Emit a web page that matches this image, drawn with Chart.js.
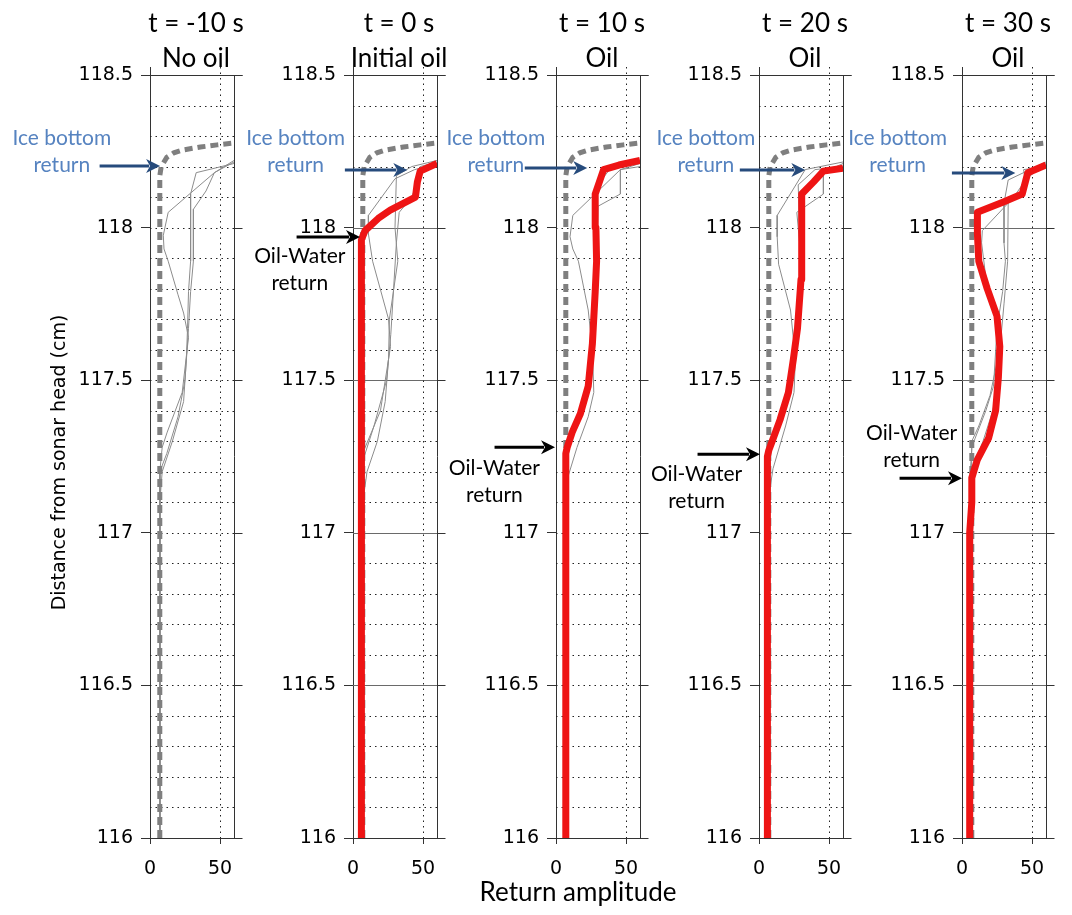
<!DOCTYPE html>
<html>
<head>
<meta charset="utf-8">
<script src="https://cdn.jsdelivr.net/npm/chart.js@4.4.0/dist/chart.umd.min.js"></script>
<style>
  html, body { margin: 0; padding: 0; background: #fff; }
  #wrap { position: relative; width: 1072px; height: 915px; }
  #wrap canvas { position: absolute; left: 0; top: 0; }
</style>
</head>
<body>
<div id="wrap"></div>
<script>
// axes
const yTicks = [116, 116.5, 117, 117.5, 118, 118.5];
const xTicks = [0, 50];

const panelTitles = [
  ["t = -10 s", "No oil"],
  ["t = 0 s", "Initial oil"],
  ["t = 10 s", "Oil"],
  ["t = 20 s", "Oil"],
  ["t = 30 s", "Oil"]
];

// profiles as [return amplitude, distance from sonar head (cm)]
// grey dashed: no-oil reference, same in every panel
const noOilRef = [[7,116],[7,118.17],[8,118.2],[12,118.23],[17,118.245],[23,118.254],[36,118.264],[48,118.271],[60,118.277]];

const p1ThinA = [[60,118.21],[33,118.18],[29,118.11],[29,117.89],[27.5,117.79],[26.8,117.67],[26,117.57],[24,117.43],[16,117.3],[8.7,117.2],[7,117.1],[7,116]];
const p1ThinB = [[60,118.215],[46,118.18],[13,118.05],[9.5,117.975],[10,117.93],[13,117.89],[20,117.78],[24,117.72],[27.5,117.64],[23,117.46],[12.3,117.33],[8.7,117.28],[7,117.2],[7,116]];
const p1ThinC = [[60,118.22],[46,118.18],[40,118.12],[31,118.06],[31,117.89],[29,117.79],[27.5,117.67],[25,117.5],[20,117.38],[12,117.26],[7,117.2],[7,116]];

const p2Red = [[6,116],[6,117.96],[8.6,117.99],[18,118.03],[26.6,118.057],[44.6,118.1],[46,118.15],[48,118.185],[60,118.21]];
const p2ThinA = [[60,118.22],[42,118.2],[31,118.17],[30,118.0],[32,117.89],[26,117.7],[25.4,117.57],[23,117.43],[17.4,117.3],[10,117.2],[7,117.1],[7,116]];
const p2ThinB = [[60,118.21],[44,118.19],[30,118.16],[11,118.04],[11,117.98],[14,117.89],[25.4,117.7],[26.8,117.61],[19.6,117.4],[8.7,117.28],[6.5,117.25],[7,116]];
const p2ThinC = [[60,118.215],[48,118.2],[46,118.15],[42,118.1],[33,118.05],[31,117.95],[29,117.8],[27,117.65],[24,117.5],[15,117.35],[8,117.25],[7,116]];

const p3Red = [[7,116],[7,117.26],[8,117.28],[11.6,117.33],[17.4,117.39],[23,117.48],[26,117.62],[28,117.79],[29,117.89],[28.5,118.0],[28,118.11],[34,118.19],[45,118.205],[60,118.22]];
const p3ThinA = [[60,118.2],[46,118.19],[12,118.04],[10,117.97],[12,117.93],[16,117.89],[23,117.73],[26,117.6],[27,117.46],[23,117.38],[15,117.28],[9,117.19],[7,117.1],[7,116]];
const p3ThinB = [[60,118.21],[46,118.19],[46,118.11],[30,118.07],[29,117.89],[28,117.78],[26,117.62],[23,117.48],[17,117.39],[11,117.32],[8,117.27],[7,116]];
const p3ThinC = [[60,118.215],[40,118.2],[28,118.13],[28,118.0],[29,117.9],[27,117.7],[24,117.5],[18,117.4],[10,117.3],[7,117.2],[7,116]];

const p4Red = [[6,116],[6,117.25],[7,117.27],[9.4,117.3],[15,117.37],[21,117.46],[24.6,117.57],[27.5,117.67],[30,117.83],[30.5,117.9],[30.5,118.11],[39,118.15],[46,118.185],[60,118.195]];
const p4ThinA = [[60,118.215],[33,118.19],[13,118.04],[13,117.97],[14,117.88],[22.5,117.73],[26,117.57],[25,117.46],[19,117.35],[10,117.21],[7,117.12],[6,116]];
const p4ThinB = [[60,118.21],[46,118.18],[46,118.11],[27,118.05],[30,117.9],[28,117.7],[25,117.55],[20,117.42],[12,117.32],[7,117.25],[6,116]];
const p4ThinC = [[60,118.2],[40,118.19],[28,118.14],[29,118.0],[30,117.85],[27,117.65],[23,117.5],[16,117.38],[8,117.28],[6,116]];

const p5Red = [[5,116],[5.5,117.0],[7,117.1],[7,117.18],[11,117.24],[19,117.31],[24,117.4],[26,117.51],[27,117.61],[25,117.71],[18,117.8],[12,117.89],[11,117.98],[11,118.05],[30,118.085],[43,118.11],[47,118.18],[60,118.205]];
const p5ThinA = [[60,118.21],[46,118.16],[37,118.1],[14.5,117.99],[14,117.95],[18,117.8],[25,117.7],[27,117.6],[26,117.5],[22,117.4],[15,117.3],[8,117.22],[6,117.1],[5,116]];
const p5ThinB = [[60,118.215],[33,118.156],[30,118.08],[30,117.95],[31,117.89],[29,117.79],[25,117.67],[22.5,117.48],[17,117.4],[9.4,117.31],[7,117.28],[6,117.2],[5,116]];
const p5ThinC = [[60,118.2],[44,118.19],[46,118.13],[33,118.08],[32.6,117.89],[30,117.75],[27,117.6],[20,117.45],[12,117.35],[7,117.3],[5,116]];

// callouts in data units: text baseline of first line, arrow tail and tip
const iceNotes = [
  { text: [-63, 118.27], tail: [-36, 118.202], tip: [7.2, 118.202] },
  { text: [-41, 118.27], tail: [-5.8, 118.189], tip: [38.8, 118.189] },
  { text: [-43, 118.27], tail: [-22.3, 118.195], tip: [22.3, 118.195] },
  { text: [-38, 118.27], tail: [-13.7, 118.189], tip: [33.1, 118.189] },
  { text: [-46, 118.27], tail: [-7.2, 118.179], tip: [38.1, 118.179] }
];
const owNotes = [
  null,
  { text: [-38, 117.884], tail: [-40.3, 117.969], tip: [5, 117.969] },
  { text: [-44, 117.189], tail: [-43.9, 117.28], tip: [-0.7, 117.28] },
  { text: [-44.6, 117.169], tail: [-43.9, 117.257], tip: [0.7, 117.257] },
  { text: [-36, 117.303], tail: [-44.6, 117.179], tip: [0, 117.179] }
];

const panels = [
  { red: null, thin: [p1ThinA, p1ThinB, p1ThinC], solidGrid: false },
  { red: p2Red, thin: [p2ThinA, p2ThinB, p2ThinC], solidGrid: true },
  { red: p3Red, thin: [p3ThinA, p3ThinB, p3ThinC], solidGrid: false },
  { red: p4Red, thin: [p4ThinA, p4ThinB, p4ThinC], solidGrid: false },
  { red: p5Red, thin: [p5ThinA, p5ThinB, p5ThinC], solidGrid: true }
];

const W = 1072, H = 915;
const panelLeft = [150, 353, 556, 759, 962];
const plotW = 84, plotTop = 75, plotBottom = 838;
const yAxisW = 100, xAxisH = 45;

function pts(a) {
  return a.map(p => ({ x: p[0], y: p[1] }));
}

function hline(ctx, x1, x2, y) {
  ctx.beginPath(); ctx.moveTo(x1, y); ctx.lineTo(x2, y); ctx.stroke();
}
function vline(ctx, x, y1, y2) {
  ctx.beginPath(); ctx.moveTo(x, y1); ctx.lineTo(x, y2); ctx.stroke();
}

function arrow(ctx, x1, y1, x2, y2, color) {
  const ang = Math.atan2(y2 - y1, x2 - x1);
  const len = 14, hw = 7;
  ctx.save();
  ctx.translate(x2, y2);
  ctx.rotate(ang);
  ctx.strokeStyle = color;
  ctx.fillStyle = color;
  ctx.lineWidth = 3;
  ctx.beginPath();
  ctx.moveTo(-Math.hypot(x2 - x1, y2 - y1), 0);
  ctx.lineTo(-len + 3, 0);
  ctx.stroke();
  ctx.beginPath();
  ctx.moveTo(0, 0);
  ctx.lineTo(-len, -hw);
  ctx.lineTo(-len + 4, 0);
  ctx.lineTo(-len, hw);
  ctx.closePath();
  ctx.fill();
  ctx.restore();
}

const framePlugin = {
  id: "frame",
  beforeDatasetsDraw(chart, args, opts) {
    const { ctx, chartArea: a, scales: { x, y } } = chart;
    ctx.save();
    ctx.lineWidth = 1;
    // horizontal grid every 0.1 cm
    for (let k = 1; k < 25; k++) {
      const py = Math.round(y.getPixelForValue(116 + k * 0.1)) + 0.5;
      if (k % 5 === 0 && opts.solidGrid) {
        ctx.setLineDash([]);
        ctx.strokeStyle = "#6a6a6a";
      } else {
        ctx.setLineDash([1.5, 4]);
        ctx.strokeStyle = "#222";
      }
      hline(ctx, a.left, a.right, py);
    }
    // dotted amplitude grid
    ctx.setLineDash([1.5, 4]);
    ctx.strokeStyle = "#222";
    const gx = Math.round(x.getPixelForValue(50)) + 0.5;
    vline(ctx, gx, a.top - 8, a.bottom);
    ctx.setLineDash([]);
    // box and outward ticks on top / right
    ctx.strokeStyle = "#333";
    const top = Math.round(a.top) + 0.5, right = Math.round(a.right) + 0.5;
    hline(ctx, a.left - 9, right + 8, top);
    vline(ctx, right, a.top, a.bottom);
    vline(ctx, Math.round(a.left) + 0.5, a.top - 8, a.top);
    yTicks.forEach(v => {
      const py = Math.round(y.getPixelForValue(v)) + 0.5;
      hline(ctx, right, right + 8, py);
    });
    ctx.restore();
  },
  afterDraw(chart, args, opts) {
    const { ctx, chartArea: a, scales: { x, y } } = chart;
    ctx.save();
    ctx.fillStyle = "#000";
    ctx.textAlign = "center";
    ctx.textBaseline = "alphabetic";
    ctx.font = "26px Lato";
    const cx = (a.left + a.right) / 2 + 4;
    ctx.fillText(opts.title[0], cx, a.top - 43);
    ctx.fillText(opts.title[1], cx, a.top - 8);

    ctx.font = "21px Lato";
    const ice = opts.ice;
    if (ice) {
      ctx.fillStyle = "#5683c0";
      const tx = x.getPixelForValue(ice.text[0]), ty = y.getPixelForValue(ice.text[1]);
      ctx.fillText("Ice bottom", tx, ty);
      ctx.fillText("return", tx, ty + 27);
      arrow(ctx, x.getPixelForValue(ice.tail[0]), y.getPixelForValue(ice.tail[1]),
        x.getPixelForValue(ice.tip[0]), y.getPixelForValue(ice.tip[1]), "#264b7c");
    }
    const ow = opts.ow;
    if (ow) {
      ctx.fillStyle = "#000";
      const tx = x.getPixelForValue(ow.text[0]), ty = y.getPixelForValue(ow.text[1]);
      ctx.fillText("Oil-Water", tx, ty);
      ctx.fillText("return", tx, ty + 27);
      arrow(ctx, x.getPixelForValue(ow.tail[0]), y.getPixelForValue(ow.tail[1]),
        x.getPixelForValue(ow.tip[0]), y.getPixelForValue(ow.tip[1]), "#000");
    }
    if (opts.yTitle) {
      ctx.save();
      ctx.fillStyle = "#000";
      ctx.font = "19px 'DejaVu Sans'";
      ctx.translate(a.left - 90, (a.top + a.bottom) / 2 + 6);
      ctx.rotate(-Math.PI / 2);
      ctx.textBaseline = "middle";
      ctx.fillText(opts.yTitle, 0, 0);
      ctx.restore();
    }
    if (opts.xTitle) {
      ctx.fillStyle = "#000";
      ctx.font = "26px Lato";
      ctx.fillText(opts.xTitle, cx - 24, H - 14);
    }
    ctx.restore();
  }
};

function buildPanel(i) {
  const p = panels[i];
  const canvas = document.createElement("canvas");
  canvas.width = W;
  canvas.height = H;
  document.getElementById("wrap").appendChild(canvas);

  const datasets = [];
  if (p.red) {
    datasets.push({ data: pts(p.red), borderColor: "#ee1414", borderWidth: 7, borderJoinStyle: "round" });
  }
  datasets.push({ data: pts(noOilRef), borderColor: "#7f7f7f", borderWidth: 5, borderDash: [8, 5] });
  p.thin.forEach(t => datasets.push({ data: pts(t), borderColor: "#8c8c8c", borderWidth: 1 }));
  datasets.forEach(d => { d.showLine = true; d.pointRadius = 0; d.tension = 0; d.fill = false; });

  const left = panelLeft[i];
  new Chart(canvas, {
    type: "scatter",
    data: { datasets },
    plugins: [framePlugin],
    options: {
      responsive: false,
      devicePixelRatio: 1,
      animation: false,
      events: [],
      layout: {
        padding: {
          left: left - yAxisW,
          right: W - left - plotW,
          top: plotTop,
          bottom: H - plotBottom - xAxisH
        }
      },
      plugins: {
        legend: { display: false },
        tooltip: { enabled: false },
        frame: {
          title: panelTitles[i],
          solidGrid: p.solidGrid,
          ice: iceNotes[i],
          ow: owNotes[i],
          yTitle: i === 0 ? "Distance from sonar head (cm)" : null,
          xTitle: i === 2 ? "Return amplitude" : null
        }
      },
      scales: {
        x: {
          type: "linear",
          min: 0,
          max: 60,
          afterBuildTicks: s => { s.ticks = xTicks.map(v => ({ value: v })); },
          afterFit: s => { s.height = xAxisH; },
          ticks: { font: { family: "DejaVu Sans", size: 19 }, color: "#000", padding: 14, maxRotation: 0, autoSkip: false },
          grid: { drawOnChartArea: false, drawTicks: true, tickLength: 6, color: "#333" },
          border: { display: true, color: "#333", width: 1 }
        },
        y: {
          type: "linear",
          min: 116,
          max: 118.5,
          afterBuildTicks: s => { s.ticks = yTicks.map(v => ({ value: v })); },
          afterFit: s => { s.width = yAxisW; },
          ticks: { font: { family: "DejaVu Sans", size: 19 }, color: "#000", padding: 8, autoSkip: false, callback: v => String(v) },
          grid: { drawOnChartArea: false, drawTicks: true, tickLength: 9, color: "#333" },
          border: { display: true, color: "#333", width: 1 }
        }
      }
    }
  });
}

const fontLoads = ["26px Lato", "21px Lato", "19px 'DejaVu Sans'"].map(f => document.fonts.load(f));
Promise.all(fontLoads).catch(() => {}).then(() => {
  for (let i = 0; i < panels.length; i++) buildPanel(i);
});
</script>
</body>
</html>
